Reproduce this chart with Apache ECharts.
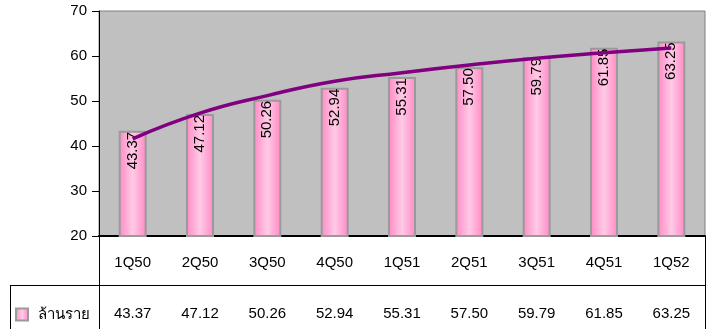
<!DOCTYPE html>
<html lang="th">
<head>
    <meta charset="UTF-8">
    <title>ล้านราย</title>
    <script src="https://cdn.jsdelivr.net/npm/echarts@6/dist/echarts.min.js"></script>
    <style>
        html, body { margin: 0; padding: 0; background: #fff; }
        #container { width: 709px; height: 329px; }
    </style>
</head>
<body>
<div id="container"></div>
<script type="text/javascript">
    // data
    let categories = ['1Q50', '2Q50', '3Q50', '4Q50', '1Q51', '2Q51', '3Q51', '4Q51', '1Q52'];
    let values = [43.37, 47.12, 50.26, 52.94, 55.31, 57.50, 59.79, 61.85, 63.25];
    // trend line at each quarter
    let trend = [41.6, 47.3, 51.2, 54.4, 56.3, 58.0, 59.5, 60.7, 61.8];
    let seriesName = 'ล้านราย';

    let font = "'Liberation Sans', Arial, 'Noto Sans', 'DejaVu Sans', sans-serif";
    let myChart = echarts.init(document.getElementById('container'));

    let option = {
        animation: false,
        textStyle: {fontFamily: font},
        grid: {
            left: 99, right: 4, top: 11, bottom: 93,
            show: true,
            backgroundColor: '#c0c0c0',
            borderColor: '#808080',
            borderWidth: 1
        },
        legend: {
            data: [seriesName],
            left: 10, top: 302,
            icon: 'rect',
            itemWidth: 12, itemHeight: 12,
            textStyle: {fontSize: 15, color: '#000', fontFamily: font, padding: [0, 0, 0, 5]}
        },
        xAxis: [
            {
                type: 'category',
                data: categories,
                axisLine: {lineStyle: {color: '#000', width: 2}},
                axisTick: {show: false},
                axisLabel: {fontSize: 15, color: '#000', margin: 19}
            },
            {
                type: 'category',
                data: categories,
                position: 'bottom',
                offset: 49,
                axisLine: {lineStyle: {color: '#000', width: 1}},
                axisTick: {show: false},
                axisLabel: {
                    fontSize: 15, color: '#000', margin: 21,
                    formatter: function (v, i) { return values[i].toFixed(2); }
                }
            }
        ],
        yAxis: {
            type: 'value',
            min: 20, max: 70, interval: 10,
            axisLine: {show: true, lineStyle: {color: '#000', width: 1}},
            axisTick: {show: true, length: 7, lineStyle: {color: '#000'}},
            splitLine: {show: false},
            axisLabel: {fontSize: 15, color: '#000', margin: 12}
        },
        series: [
            {
                name: seriesName,
                type: 'bar',
                data: values,
                barWidth: 28,
                itemStyle: {
                    color: new echarts.graphic.LinearGradient(0, 0, 1, 0, [
                        {offset: 0, color: '#ff88c4'},
                        {offset: 0.5, color: '#ffcae6'},
                        {offset: 1, color: '#ff88c4'}
                    ]),
                    borderColor: '#9a9a9a',
                    borderWidth: 2
                },
                label: {
                    show: true,
                    position: 'insideTop',
                    rotate: 90,
                    align: 'right',
                    verticalAlign: 'middle',
                    distance: 1,
                    fontSize: 15,
                    color: '#000',
                    formatter: function (p) { return p.value.toFixed(2); }
                }
            },
            {
                name: 'trend',
                type: 'line',
                data: trend,
                smooth: true,
                symbol: 'none',
                lineStyle: {color: '#800080', width: 3.5},
                z: 5
            }
        ],
        graphic: [
            // data table borders
            {type: 'line', shape: {x1: 10, y1: 285.5, x2: 705, y2: 285.5}, style: {stroke: '#000', lineWidth: 1}},
            {type: 'line', shape: {x1: 10.5, y1: 285, x2: 10.5, y2: 329}, style: {stroke: '#000', lineWidth: 1}},
            {type: 'line', shape: {x1: 99.5, y1: 236, x2: 99.5, y2: 329}, style: {stroke: '#000', lineWidth: 1}},
            {type: 'line', shape: {x1: 705.5, y1: 236, x2: 705.5, y2: 329}, style: {stroke: '#000', lineWidth: 1}}
        ]
    };
    myChart.setOption(option);
</script>
</body>
</html>
